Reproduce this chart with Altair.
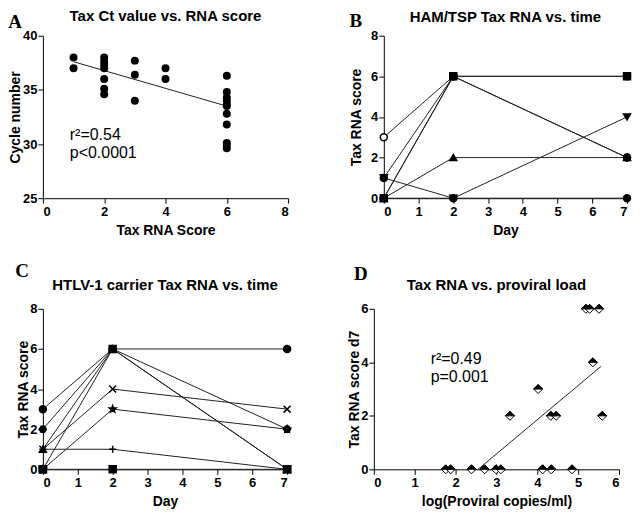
import altair as alt
import pandas as pd

SANS = "Liberation Sans"
SERIF = "Liberation Serif"

# ---------------- Panel A: Tax Ct value vs. RNA score ----------------
a_score = [1, 1,
           2, 2, 2, 2, 2, 2, 2,
           3, 3, 3,
           4, 4,
           6, 6, 6, 6, 6, 6, 6, 6, 6, 6, 6]
a_ct = [38.0, 37.0,
        38.0, 37.6, 37.3, 37.0, 36.0, 35.1, 34.6,
        37.7, 36.4, 34.0,
        37.0, 36.0,
        36.3, 34.8, 34.3, 34.0, 33.7, 33.5, 32.8, 31.8, 30.1, 29.9, 29.6]
a_fit_x = [1, 6]
a_fit_y = [37.6, 33.5]

# ---------------- Panel B: HAM/TSP Tax RNA vs. time ----------------
days = [0, 2, 7]
b_series = ["b6", "b7", "b1", "b2", "b4", "b5", "b3"]
b_scores = [[1, 0, 4], [0, 0, 0], [3, 6, 2], [1, 6, 6], [0, 6, 2], [0, 2, 2], [0, 6, 6]]
HEX = "M-1,0L-0.5,-0.866L0.5,-0.866L1,0L0.5,0.866L-0.5,0.866Z"
b_shapes = ["triangle-down", "circle", "circle", "circle", HEX, "triangle-up", "square"]
b_fills = ["black", "black", "white", "black", "black", "black", "black"]

# ---------------- Panel C: HTLV-1 carrier Tax RNA vs. time ----------------
c_series = ["c1", "c2", "c3", "c4", "c5", "c6", "c7", "c8"]
c_scores = [[3, 6, 6], [2, 6, 2], [1, 6, 0], [1, 4, 3], [1, 1, 0], [0, 3, 2], [0, 6, 0], [0, 0, 0]]
STAR = ("M0,-1L0.235,-0.324L0.951,-0.309L0.380,0.124L0.588,0.809L0,0.4L-0.588,0.809"
        "L-0.380,0.124L-0.951,-0.309L-0.235,-0.324Z")
c_shapes = ["circle", HEX, "triangle-up", "M-1,-1L1,1M-1,1L1,-1", "M-1,0L1,0M0,-1L0,1",
            STAR, "square", "square"]
c_fills = ["black"] * 8
c_sizes = [49, 49, 49, 36, 64, 81, 64, 49]

# ---------------- Panel D: Tax RNA vs. proviral load ----------------
d_log_pvl = [1.76, 1.88, 2.39, 2.71, 2.99, 3.11, 4.13, 4.34, 4.85,
             3.33, 4.33, 4.46, 5.59,
             4.02,
             5.36,
             5.19, 5.28, 5.51]
d_score = [0, 0, 0, 0, 0, 0, 0, 0, 0,
           2, 2, 2, 2,
           3,
           4,
           6, 6, 6]
d_fit_x = [2.55, 5.56]
d_fit_y = [0.0, 3.85]


def label(text, x, y, size, font=SANS, weight="bold"):
    return alt.Chart(alt.Data(values=[{"t": text}])).mark_text(
        font=font, fontSize=size, fontWeight=weight, align="center",
        baseline="alphabetic", color="black"
    ).encode(x=alt.value(x), y=alt.value(y), text="t:N")


def note(text, x, y, size=16):
    return alt.Chart(alt.Data(values=[{"t": text}])).mark_text(
        font=SANS, fontSize=size, fontWeight="normal", align="left",
        baseline="alphabetic", color="black"
    ).encode(x=alt.value(x), y=alt.value(y), text="t:N")


def xax(title, values):
    return alt.Axis(title=title, values=values, format="d")


def yax(title, values, ext, tp):
    return alt.Axis(title=title, values=values, format="d", minExtent=ext, maxExtent=ext,
                    titlePadding=tp)


# ---- A ----
WA, HA = 246, 163
dfa = pd.DataFrame({"score": a_score, "ct": a_ct})
dfa_fit = pd.DataFrame({"score": a_fit_x, "ct": a_fit_y})
xa = alt.X("score:Q", scale=alt.Scale(domain=[0, 8], nice=False, zero=False),
           axis=xax("Tax RNA Score", [0, 2, 4, 6, 8]))
ya = alt.Y("ct:Q", scale=alt.Scale(domain=[25, 40], nice=False, zero=False),
           axis=yax("Cycle number", [25, 30, 35, 40], 18, 2))
pa = alt.Chart(dfa).mark_circle(size=64, color="black", opacity=1).encode(x=xa, y=ya)
la = alt.Chart(dfa_fit).mark_line(color="#222", strokeWidth=1).encode(x=xa, y=ya)
panel_a = alt.layer(
    la, pa,
    note("r²=0.54", 27, 105), note("p<0.0001", 27, 123),
    label("Tax Ct value vs. RNA score", WA / 2, -15, 15),
    label("A", -28, -8, 19, SERIF),
).properties(width=WA, height=HA)

# ---- B ----
WB, HB = 244, 163
rows = []
for s, sc in zip(b_series, b_scores):
    for d, v in zip(days, sc):
        rows.append({"sb": s, "day": d, "v": v})
dfb = pd.DataFrame(rows)
xb = alt.X("day:Q", scale=alt.Scale(domain=[0, 7], nice=False, zero=False),
           axis=xax("Day", [0, 1, 2, 3, 4, 5, 6, 7]))
yb = alt.Y("v:Q", scale=alt.Scale(domain=[0, 8], nice=False, zero=False),
           axis=yax("Tax RNA score", [0, 2, 4, 6, 8], 18, 2))
lb = alt.Chart(dfb).mark_line(color="#222", strokeWidth=1, clip=False).encode(
    x=xb, y=yb, detail="sb:N", order="day:Q")
pb = alt.Chart(dfb).mark_point(filled=False, stroke="black", strokeWidth=1.5, opacity=1, size=49,
                               clip=False).encode(
    x=xb, y=yb,
    shape=alt.Shape("sb:N", scale=alt.Scale(domain=b_series, range=b_shapes), legend=None),
    fill=alt.Fill("sb:N", scale=alt.Scale(domain=b_series, range=b_fills), legend=None),
)
panel_b = alt.layer(
    lb, pb,
    label("HAM/TSP Tax RNA vs. time", WB / 2, -14, 15),
    label("B", -28, -9, 19, SERIF),
).properties(width=WB, height=HB)

# ---- C ----
WC, HC = 245, 161
rows = []
for s, sc in zip(c_series, c_scores):
    for d, v in zip(days, sc):
        rows.append({"sc": s, "day": d, "v": v})
dfc = pd.DataFrame(rows)
yc = alt.Y("v:Q", scale=alt.Scale(domain=[0, 8], nice=False, zero=False),
           axis=yax("Tax RNA score", [0, 2, 4, 6, 8], 11, 1))
lc = alt.Chart(dfc).mark_line(color="#222", strokeWidth=1, clip=False).encode(
    x=xb, y=yc, detail="sc:N", order="day:Q")
pc = alt.Chart(dfc).mark_point(filled=False, stroke="black", strokeWidth=1.5, opacity=1,
                               clip=False).encode(
    x=xb, y=yc,
    shape=alt.Shape("sc:N", scale=alt.Scale(domain=c_series, range=c_shapes), legend=None),
    fill=alt.Fill("sc:N", scale=alt.Scale(domain=c_series, range=c_fills), legend=None),
    size=alt.Size("sc:N", scale=alt.Scale(domain=c_series, range=c_sizes), legend=None),
)
panel_c = alt.layer(
    lc, pc,
    label("HTLV-1 carrier Tax RNA vs. time", WC / 2, -19, 15),
    label("C", -21, -32, 19, SERIF),
).properties(width=WC, height=HC)

# ---- D ----
WD, HD = 246, 161
dfd = pd.DataFrame({"pvl": d_log_pvl, "score": d_score})
dfd_fit = pd.DataFrame({"pvl": d_fit_x, "score": d_fit_y})
xd = alt.X("pvl:Q", scale=alt.Scale(domain=[0, 6], nice=False, zero=False),
           axis=xax("log(Proviral copies/ml)", [0, 1, 2, 3, 4, 5, 6]))
yd = alt.Y("score:Q", scale=alt.Scale(domain=[0, 6], nice=False, zero=False),
           axis=yax("Tax RNA score d7", [0, 2, 4, 6], 11, 1))
ld = alt.Chart(dfd_fit).mark_line(color="#222", strokeWidth=1).encode(x=xd, y=yd)
pd_base = alt.Chart(dfd).mark_point(shape="M0,-1L1,0L0,1L-1,0Z", filled=True, fill="white",
                                    stroke="black", strokeWidth=1, size=81, opacity=1,
                                    clip=False).encode(x=xd, y=yd)
pd_top = alt.Chart(dfd).mark_point(shape="M-1,0L0,-1L1,0Z", filled=True, fill="black",
                                   stroke="black", strokeWidth=1, size=81, opacity=1,
                                   clip=False).encode(x=xd, y=yd)
panel_d = alt.layer(
    ld, pd_base, pd_top,
    note("r²=0.49", 57, 55), note("p=0.001", 57, 73),
    label("Tax RNA vs. proviral load", WD / 2, -19, 15),
    label("D", -13, -29, 19, SERIF),
).properties(width=WD, height=HD)

indep = dict(shape="independent", fill="independent", size="independent")
top = alt.hconcat(panel_a, panel_b, spacing=60).resolve_scale(**indep)
bottom = alt.hconcat(panel_c, panel_d, spacing=54).resolve_scale(**indep)

chart = alt.concat(top, bottom, columns=1, spacing=25, align="none").resolve_scale(**indep).properties(
    padding={"left": 0, "top": 0, "right": 0, "bottom": 0},
    background="white",
).configure_view(stroke=None).configure_axis(
    domainColor="black", tickColor="black", labelColor="black", titleColor="black",
    labelFont=SANS, titleFont=SANS, labelFontSize=13, titleFontSize=14,
    labelFontWeight="bold", titleFontWeight="bold", grid=False, tickSize=5,
    domainWidth=1, tickWidth=1,
).configure_axisX(labelPadding=2, titlePadding=5).configure_axisY(labelPadding=1)

chart.save("out.html", embed_options={"renderer": "svg", "actions": False})
